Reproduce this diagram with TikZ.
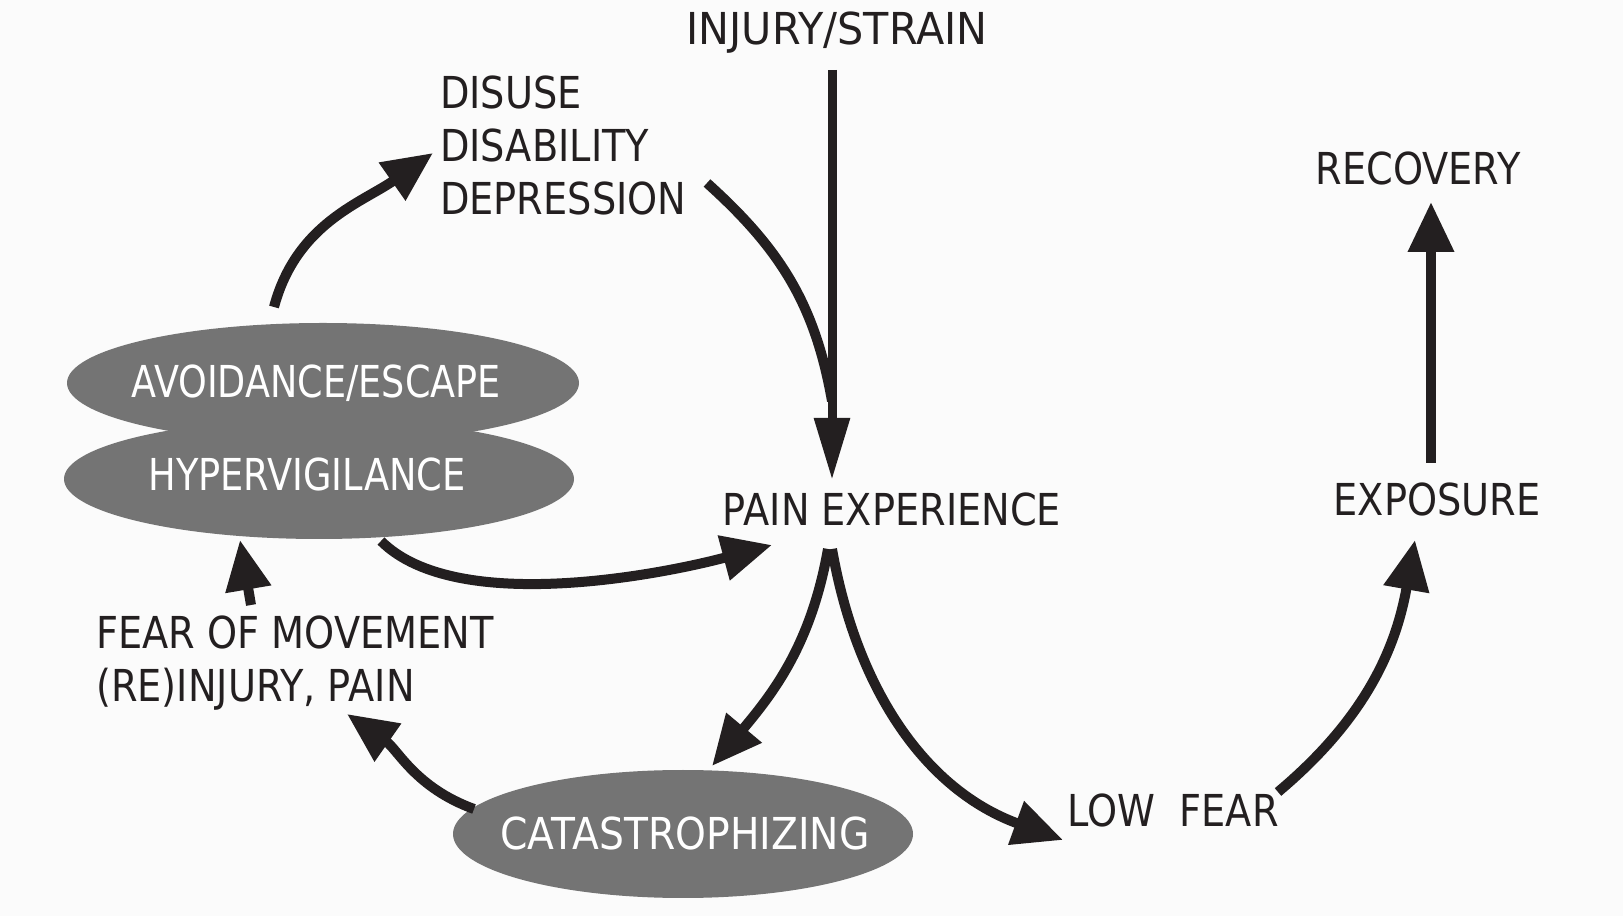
\documentclass[tikz,border=0pt]{standalone}
\usepackage{fontspec}
\setmainfont{DejaVu Sans}[FakeStretch=0.87]
\usetikzlibrary{arrows.meta,shapes.geometric}
\definecolor{ink}{HTML}{231F20}
\definecolor{blob}{HTML}{747474}
\definecolor{paper}{HTML}{FBFBFB}
\begin{document}
\begin{tikzpicture}[x=1pt,y=1pt,
  lbl/.style={font=\fontsize{44}{53}\selectfont, text=ink, inner sep=0pt},
  wlbl/.style={font=\fontsize{44}{53}\selectfont, text=white, inner sep=0pt},
  blobshape/.style={ellipse, fill=blob, draw=none, inner sep=0pt},
  flow/.style={draw=ink, line width=10pt, -{Triangle[length=50pt,width=44pt]}},
  flowline/.style={draw=ink, line width=10pt},
  thinflow/.style={draw=ink, line width=9pt, -{Triangle[length=62pt,width=34pt]}}]
\fill[paper] (0,0) rectangle (1623,916);
\useasboundingbox (0,0) rectangle (1623,916);

% grey ellipses
\node[blobshape, minimum width=512pt, minimum height=120pt] (avoidE) at (323,533) {};
\node[blobshape, minimum width=510pt, minimum height=120pt] (hyperE) at (319,437) {};
\node[blobshape, minimum width=460pt, minimum height=128pt] (catE) at (683,82) {};

% labels
\node[lbl] (injury) at (837,883) {\scalebox{1.08}[1]{INJURY/STRAIN}};
\node[lbl, anchor=west, align=left] (disuse) at (440,771) {DISUSE\\DISABILITY\\DEPRESSION};
\node[lbl] (recovery) at (1418,748) {RECOVERY};
\node[wlbl] (avoid) at (316,533) {\scalebox{0.955}[1]{AVOIDANCE/ESCAPE}};
\node[wlbl] (hyper) at (307,442) {\scalebox{0.96}[1]{HYPERVIGILANCE}};
\node[lbl] (pain) at (892,407) {PAIN EXPERIENCE};
\node[lbl] (exposure) at (1437,417) {EXPOSURE};
\node[lbl, anchor=west, align=left] (fear) at (96,253) {FEAR OF MOVEMENT\\(RE)INJURY, PAIN};
\node[wlbl] (cat) at (685,83) {\scalebox{1.025}[1]{CATASTROPHIZING}};
\node[lbl] (low) at (1173,106) {LOW\ \ FEAR};

% connector end points
\coordinate (a1s) at (274,609);
\coordinate (a1e) at (433,763);
\coordinate (depS) at (707,733);
\coordinate (merge) at (832,515);
\coordinate (painTip) at (832,436);
\coordinate (injS) at (832,846);
\coordinate (hypS) at (381,375);
\coordinate (hypE) at (772,371);
\coordinate (painL) at (828,367);
\coordinate (painR) at (832,367);
\coordinate (catTip) at (712,150);
\coordinate (lowTip) at (1063,76);
\coordinate (catS) at (474,107);
\coordinate (fearTip) at (347,202);
\coordinate (fearS) at (251,311);
\coordinate (hypTip) at (240,376);
\coordinate (lowS) at (1278,124);
\coordinate (expTip) at (1415,376);
\coordinate (expS) at (1431,453);
\coordinate (recTip) at (1431,714);

% connectors
\draw[flow] (a1s) to[out=75,in=215] (a1e);
\draw[flowline] (depS) to[out=-42,in=100] (merge);
\draw[thinflow] (injS) -- (painTip);
\draw[flow] (hypS) to[out=-45,in=195,looseness=0.7] (hypE);
\draw[flow] (painL) to[out=-100,in=50] (catTip);
\draw[flow] (painR) to[out=-80,in=160] (lowTip);
\draw[flow] (catS) to[out=160,in=-35] (fearTip);
\draw[flow] (fearS) -- (hypTip);
\draw[flow] (lowS) to[out=40,in=-100] (expTip);
\draw[flow] (expS) -- (recTip);
\end{tikzpicture}
\end{document}
